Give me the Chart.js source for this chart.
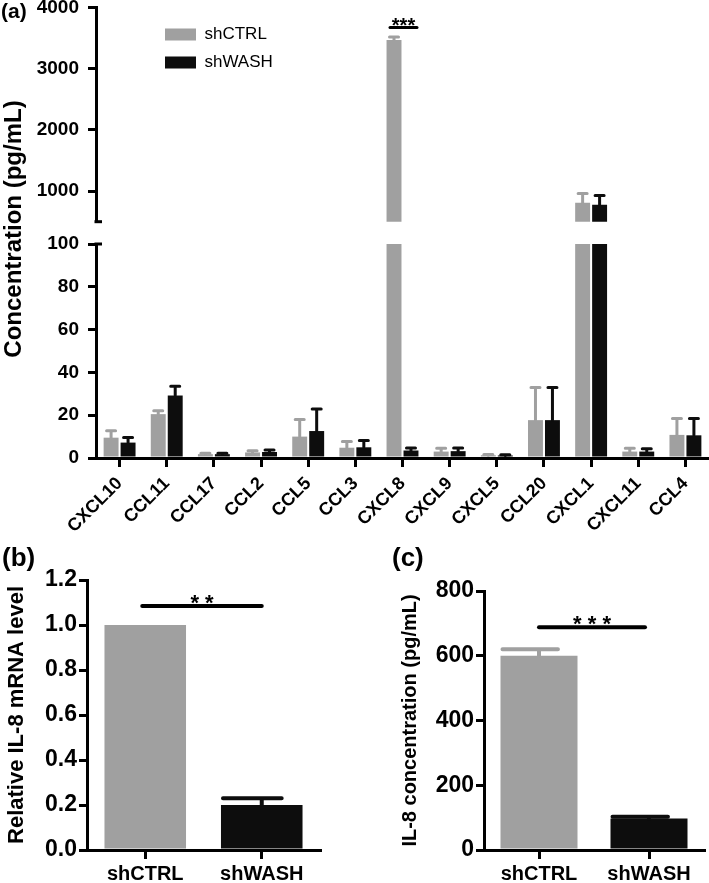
<!DOCTYPE html>
<html>
<head>
<meta charset="utf-8">
<script src="https://cdn.jsdelivr.net/npm/chart.js@4.4.1/dist/chart.umd.min.js"></script>
<style>
  html, body { margin: 0; padding: 0; background: #fff; }
  #page { position: relative; width: 709px; height: 883px; overflow: hidden; }
  .box { position: absolute; }
</style>
</head>
<body>
<div id="page">
  <div class="box" style="left:0;top:0"><canvas id="aLow" width="709" height="535"></canvas></div>
  <div class="box" style="left:0;top:0"><canvas id="aHigh" width="709" height="232"></canvas></div>
  <div class="box" style="left:0;top:540px"><canvas id="bChart" width="330" height="343"></canvas></div>
  <div class="box" style="left:388px;top:540px"><canvas id="cChart" width="321" height="343"></canvas></div>
</div>
<script>
// panel (a): chemokines
const categories = ['CXCL10', 'CCL11', 'CCL17', 'CCL2', 'CCL5', 'CCL3', 'CXCL8', 'CXCL9', 'CXCL5', 'CCL20', 'CXCL1', 'CXCL11', 'CCL4'];
const ctrlMean = [9.5, 20.5, 1.8, 2.6, 10, 4.8, 3470, 3, 1.3, 17.7, 810, 3, 10.8];
const ctrlErr  = [3.2, 1.6, 0.4, 0.8, 8, 2.9, 50, 1.5, 0.3, 15.3, 150, 1.5, 7.7];
const washMean = [7.2, 29.2, 1.8, 2.8, 12.6, 5, 3.5, 3.2, 1.2, 17.7, 775, 3, 10.6];
const washErr  = [2.4, 4.3, 0.4, 0.9, 10.3, 3.2, 1.2, 1.5, 0.3, 15.3, 155, 1.3, 7.8];
const highTicks = [1000, 2000, 3000, 4000];
const lowTicks = [0, 20, 40, 60, 80, 100];
const cxcl8Sig = 3675;

// panels (b) and (c)
const groups = ['shCTRL', 'shWASH'];
const mrnaMean = [1.0, 0.2];
const mrnaErr = [0, 0.03];
const mrnaTicks = [0, 0.2, 0.4, 0.6, 0.8, 1.0, 1.2];
const mrnaSig = 1.085;
const il8Mean = [600, 97];
const il8Err = [20, 6];
const il8Ticks = [0, 200, 400, 600, 800];
const il8Sig = 688;

const GRAY = '#a0a0a0';
const BLACK = '#0d0d0d';
Chart.defaults.font.family = '"Liberation Sans", Arial, sans-serif';
Chart.defaults.color = '#000';
Chart.defaults.animation = false;

// upward error bars
const errorBars = {
  id: 'errorBars',
  afterDatasetsDraw(chart, args, opts) {
    const {ctx, chartArea} = chart;
    ctx.save();
    ctx.beginPath();
    ctx.rect(chartArea.left, chartArea.top - 2, chartArea.right - chartArea.left, chartArea.bottom - chartArea.top + 2);
    ctx.clip();
    chart.data.datasets.forEach((ds, i) => {
      if (!ds.errors) return;
      const meta = chart.getDatasetMeta(i);
      const yScale = chart.scales[meta.yAxisID];
      meta.data.forEach((bar, j) => {
        const err = ds.errors[j];
        if (!err) return;
        const top = yScale.getPixelForValue(ds.data[j] + err);
        const color = Array.isArray(ds.backgroundColor) ? ds.backgroundColor[j] : ds.backgroundColor;
        let c0, c1;
        if (opts.capAlign === 'left') {
          c0 = bar.x - bar.width / 2 + 2;
          c1 = c0 + bar.width * opts.capFrac;
        } else {
          c0 = bar.x - opts.cap / 2;
          c1 = bar.x + opts.cap / 2;
        }
        ctx.strokeStyle = color;
        ctx.lineWidth = opts.width;
        ctx.lineCap = 'round';
        ctx.beginPath();
        ctx.moveTo(bar.x, bar.y);
        ctx.lineTo(bar.x, top);
        ctx.moveTo(c0, top);
        ctx.lineTo(c1, top);
        ctx.stroke();
      });
    });
    ctx.restore();
  }
};

// significance bars with stars
const sigMarks = {
  id: 'sigMarks',
  afterDatasetsDraw(chart, args, opts) {
    const {ctx} = chart;
    (opts.marks || []).forEach(m => {
      const a = chart.getDatasetMeta(m.from[0]).data[m.from[1]];
      const b = chart.getDatasetMeta(m.to[0]).data[m.to[1]];
      const y = chart.scales.y.getPixelForValue(m.value);
      const x0 = a.x - m.padL, x1 = b.x + m.padR;
      ctx.save();
      ctx.strokeStyle = '#000';
      ctx.lineWidth = m.width;
      ctx.lineCap = 'round';
      ctx.beginPath();
      ctx.moveTo(x0, y);
      ctx.lineTo(x1, y);
      ctx.stroke();
      ctx.fillStyle = '#000';
      ctx.font = 'bold ' + m.size + 'px "Liberation Sans", Arial, sans-serif';
      ctx.textAlign = 'center';
      ctx.textBaseline = 'alphabetic';
      ctx.fillText(m.text, (x0 + x1) / 2, y + m.dy);
      ctx.restore();
    });
  }
};

// free labels (panel letters, shared axis title)
const notes = {
  id: 'notes',
  afterDraw(chart, args, opts) {
    const {ctx} = chart;
    (opts.items || []).forEach(n => {
      ctx.save();
      ctx.fillStyle = '#000';
      ctx.font = n.font;
      ctx.textAlign = n.align || 'left';
      ctx.textBaseline = 'middle';
      ctx.translate(n.x, n.y);
      if (n.angle) ctx.rotate(n.angle);
      ctx.fillText(n.text, 0, 0);
      ctx.restore();
    });
  }
};

// short stubs where the y axis is broken
const axisBreak = {
  id: 'axisBreak',
  afterDraw(chart, args, opts) {
    if (!opts.edge) return;
    const {ctx, chartArea} = chart;
    const y = opts.edge === 'bottom' ? chartArea.bottom : chartArea.top;
    ctx.save();
    ctx.strokeStyle = '#000';
    ctx.lineWidth = 3;
    ctx.beginPath();
    ctx.moveTo(chartArea.left - 1.5, y);
    ctx.lineTo(chartArea.left + opts.len, y);
    ctx.stroke();
    ctx.restore();
  }
};

// move the in-area legend to its spot
const legendSpot = {
  id: 'legendSpot',
  afterLayout(chart, args, opts) {
    if (opts.x === undefined || !chart.legend) return;
    chart.legend.left = opts.x;
    chart.legend.top = opts.y;
  }
};

Chart.register(errorBars, sigMarks, notes, axisBreak, legendSpot);

function yAxis(ticks, width, size, extra) {
  return Object.assign({
    afterBuildTicks: s => { s.ticks = ticks.map(v => ({value: v})); },
    afterFit: s => { s.width = width; s.paddingTop = 0; s.paddingBottom = 0; },
    border: {display: true, color: '#000', width: 3},
    grid: {display: true, drawOnChartArea: false, drawTicks: true, tickLength: 8, lineWidth: 3, color: '#000'},
    ticks: {color: '#000', padding: 9, font: {size: size, weight: 'bold', lineHeight: 0.8}, callback: v => String(v)}
  }, extra);
}

function xAxis(height, size, rotation, show, pad) {
  return {
    display: show,
    offset: true,
    afterFit: s => { if (show) s.height = height; },
    border: {display: true, color: '#000', width: 3},
    grid: {display: true, offset: false, drawOnChartArea: false, drawTicks: true, tickLength: 9, lineWidth: 3, color: '#000'},
    ticks: {color: '#000', padding: pad, autoSkip: false, minRotation: rotation, maxRotation: rotation, font: {size: size, weight: 'bold'}}
  };
}

function panelA(id, ticks, min, max, upper) {
  return new Chart(document.getElementById(id), {
    type: 'bar',
    data: {
      labels: categories,
      datasets: [
        {label: 'shCTRL', data: ctrlMean, errors: ctrlErr, backgroundColor: GRAY, clip: 0,
         categoryPercentage: 0.72, barPercentage: 0.88},
        {label: 'shWASH', data: washMean, errors: washErr, backgroundColor: BLACK, clip: 0,
         categoryPercentage: 0.72, barPercentage: 0.88}
      ]
    },
    options: {
      responsive: false,
      layout: {padding: upper ? {top: 7.5, bottom: 10.3, left: 0, right: 0} : {top: 244, bottom: 0, left: 0, right: 0}},
      scales: {
        x: xAxis(77, 18, 45, !upper, 6),
        y: yAxis(ticks, 96, 19, {min: min, max: max})
      },
      plugins: {
        tooltip: {enabled: false},
        legend: upper ? {
          display: true, position: 'chartArea', align: 'start',
          labels: {boxWidth: 31, boxHeight: 12, padding: 11, color: '#000', font: {size: 17}}
        } : {display: false},
        legendSpot: upper ? {x: 154, y: 15} : {},
        errorBars: {width: 3, cap: 9},
        sigMarks: {marks: upper ? [{from: [0, 6], to: [1, 6], value: cxcl8Sig, padL: 4, padR: 6, width: 3, text: '***', size: 20, dy: 5}] : []},
        axisBreak: {edge: upper ? 'bottom' : 'top', len: 6},
        notes: {items: upper
          ? [{text: '(a)', x: 1, y: 12, font: 'bold 21px "Liberation Sans", Arial, sans-serif'}]
          : [{text: 'Concentration (pg/mL)', x: 14, y: 229, angle: -Math.PI / 2, align: 'center',
              font: 'bold 24px "Liberation Sans", Arial, sans-serif'}]}
      }
    }
  });
}

panelA('aLow', lowTicks, 0, 100, false);
panelA('aHigh', highTicks, 500, 4000, true);

function smallPanel(id, mean, err, ticks, max, sig, opt) {
  return new Chart(document.getElementById(id), {
    type: 'bar',
    data: {
      labels: groups,
      datasets: [{label: opt.title, data: mean, errors: err, backgroundColor: [GRAY, BLACK],
                  categoryPercentage: 1, barPercentage: 0.7}]
    },
    options: {
      responsive: false,
      layout: {padding: {top: opt.top, right: opt.right, left: 0, bottom: 0}},
      scales: {
        x: xAxis(33, 20, 0, true, 3),
        y: yAxis(ticks, opt.yWidth, 23, {
          min: 0, max: max,
          title: {display: true, text: opt.title, color: '#000', padding: {top: opt.titlePad, bottom: 0},
                  font: {size: opt.titleSize, weight: 'bold'}},
          ticks: {color: '#000', padding: 2, font: {size: 23, weight: 'bold', lineHeight: 0.8}, callback: opt.fmt}
        })
      },
      plugins: {
        tooltip: {enabled: false},
        legend: {display: false},
        errorBars: {width: 4, capAlign: 'left', capFrac: 0.72},
        sigMarks: {marks: [{from: [0, 0], to: [0, 1], value: sig, padL: opt.sigL, padR: opt.sigR, width: 4,
                            text: opt.stars, size: 22, dy: 4}]},
        notes: {items: [{text: opt.letter, x: opt.letterX, y: 19, font: 'bold 26px "Liberation Sans", Arial, sans-serif'}]}
      }
    }
  });
}

smallPanel('bChart', mrnaMean, mrnaErr, mrnaTicks, 1.2, mrnaSig, {
  title: 'Relative IL-8 mRNA level', titleSize: 22, titlePad: 4, top: 40, right: 10, yWidth: 87,
  fmt: v => v.toFixed(1), stars: '* *', sigL: 3, sigR: 0, letter: '(b)', letterX: 2
});
smallPanel('cChart', il8Mean, il8Err, il8Ticks, 800, il8Sig, {
  title: 'IL-8 concentration (pg/mL)', titleSize: 20, titlePad: 10, top: 51, right: 5, yWidth: 96,
  fmt: v => String(v), stars: '* * *', sigL: 0, sigR: -4, letter: '(c)', letterX: 4
});
</script>
</body>
</html>
